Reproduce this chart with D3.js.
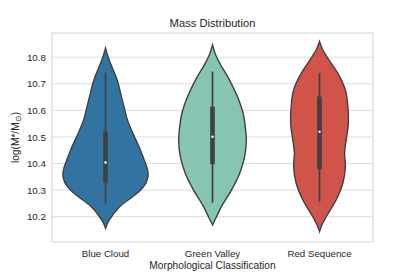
<!DOCTYPE html>
<html>
<head>
<meta charset="utf-8">
<script src="https://cdn.jsdelivr.net/npm/d3@7"></script>
<style>
  body { margin: 0; background: #fff; }
  text { font-family: "Liberation Sans", Arial, sans-serif; fill: #262626; }
</style>
</head>
<body>
<div id="chart"></div>
<script>
// categories and colours
var categories = ["Blue Cloud", "Green Valley", "Red Sequence"];
var colors = ["#3274a1", "#86c4b4", "#d1544b"];
var yTicks = [10.2, 10.3, 10.4, 10.5, 10.6, 10.7, 10.8];

// kernel density profiles: [value, density]
var blueDensity = [[10.157,0],[10.18,0.25],[10.20,0.6],[10.24,1.5],[10.276,2.75],[10.30,3.5],[10.32,3.95],
  [10.34,4.2],[10.36,4.28],[10.38,4.2],[10.40,4.02],[10.46,3.4],[10.526,2.6],[10.564,2.2],[10.60,1.95],
  [10.652,1.6],[10.714,1.17],[10.777,0.5],[10.80,0.27],[10.834,0]];
var greenDensity = [[10.169,0],[10.20,0.4],[10.238,0.9],[10.30,1.9],[10.363,2.73],[10.426,3.23],
  [10.489,3.4],[10.526,3.33],[10.59,3.07],[10.652,2.5],[10.715,1.7],[10.777,0.73],[10.81,0.3],[10.846,0]];
var redDensity = [[10.144,0],[10.17,0.25],[10.20,0.67],[10.263,1.67],[10.327,2.35],[10.389,2.6],
  [10.439,2.52],[10.489,2.68],[10.552,2.9],[10.614,2.85],[10.677,2.6],[10.74,1.83],[10.802,0.73],
  [10.83,0.3],[10.859,0]];

// inner box stats: whisker low, q1, median, q3, whisker high
var whiskerLow  = [10.25, 10.253, 10.257];
var q1          = [10.328, 10.397, 10.379];
var medians     = [10.404, 10.501, 10.52];
var q3          = [10.52, 10.614, 10.652];
var whiskerHigh = [10.742, 10.746, 10.74];

var densities = [blueDensity, greenDensity, redDensity];

var margin = {top: 33, right: 42, bottom: 35, left: 52},
    W = 415, H = 277,
    width = W - margin.left - margin.right,
    height = H - margin.top - margin.bottom;

var svg = d3.select("#chart")
  .append("svg")
  .attr("width", W)
  .attr("height", H);

var g = svg.append("g")
  .attr("transform", "translate(" + margin.left + "," + margin.top + ")");

var x = d3.scaleBand()
  .domain(categories)
  .range([0, width]);

var y = d3.scaleLinear()
  .domain([10.105, 10.891])
  .range([height, 0]);

// half width of a violin from density
var w = d3.scaleLinear()
  .domain([0, 4.3])
  .range([0, x.bandwidth() * 0.4]);

// grid
g.append("g")
  .selectAll("line")
  .data(yTicks)
  .enter()
  .append("line")
    .attr("x1", 0)
    .attr("x2", width)
    .attr("y1", function(d) { return y(d); })
    .attr("y2", function(d) { return y(d); })
    .style("stroke", "#dcdcdc")
    .style("stroke-width", 1);

// frame
g.append("rect")
  .attr("x", 0).attr("y", 0)
  .attr("width", width).attr("height", height)
  .style("fill", "none")
  .style("stroke", "#d4d4d4")
  .style("stroke-width", 1);

// y axis
var yAxis = g.append("g")
  .call(d3.axisLeft(y).tickValues(yTicks).tickSize(0).tickPadding(6).tickFormat(d3.format(".1f")));
yAxis.select(".domain").remove();
yAxis.selectAll("text")
  .style("font-size", "9.8px")
  .style("font-family", "Liberation Sans, Arial, sans-serif")
  .attr("fill", "#262626");

// x axis
var xAxis = g.append("g")
  .attr("transform", "translate(0," + height + ")")
  .call(d3.axisBottom(x).tickSize(0).tickPadding(8));
xAxis.select(".domain").remove();
xAxis.selectAll("text")
  .style("font-size", "9.7px")
  .style("font-family", "Liberation Sans, Arial, sans-serif")
  .attr("fill", "#262626");

// violins
var area = d3.area()
  .y(function(d) { return y(d[0]); })
  .x0(function(d) { return -w(d[1]); })
  .x1(function(d) { return w(d[1]); })
  .curve(d3.curveCatmullRom);

categories.forEach(function(c, i) {
  var vg = g.append("g")
    .attr("transform", "translate(" + (x(c) + x.bandwidth() / 2) + ",0)");

  vg.append("path")
    .datum(densities[i])
    .attr("d", area)
    .style("fill", colors[i])
    .style("stroke", "#404040")
    .style("stroke-width", 1.4);

  vg.append("line")
    .attr("x1", 0).attr("x2", 0)
    .attr("y1", y(whiskerLow[i]))
    .attr("y2", y(whiskerHigh[i]))
    .style("stroke", "#404040")
    .style("stroke-width", 1.7);

  vg.append("rect")
    .attr("x", -2.3)
    .attr("width", 4.6)
    .attr("y", y(q3[i]))
    .attr("height", y(q1[i]) - y(q3[i]))
    .style("fill", "#404040");

  vg.append("circle")
    .attr("cx", 0)
    .attr("cy", y(medians[i]))
    .attr("r", 1.2)
    .style("fill", "#ffffff");
});

// title and labels
svg.append("text")
  .attr("x", margin.left + width / 2)
  .attr("y", 27)
  .attr("text-anchor", "middle")
  .style("font-size", "11.2px")
  .text("Mass Distribution");

svg.append("text")
  .attr("x", margin.left + width / 2)
  .attr("y", 268.5)
  .attr("text-anchor", "middle")
  .style("font-size", "10.2px")
  .text("Morphological Classification");

var yl = svg.append("text")
  .attr("transform", "translate(18.5," + (margin.top + height / 2) + ") rotate(-90)")
  .attr("text-anchor", "middle")
  .style("font-size", "10.2px");
yl.append("tspan").text("log(M*/M");
yl.append("tspan").attr("dy", 2.5).style("font-size", "7.5px").text("\u2299");
yl.append("tspan").attr("dy", -2.5).text(")");
</script>
</body>
</html>
